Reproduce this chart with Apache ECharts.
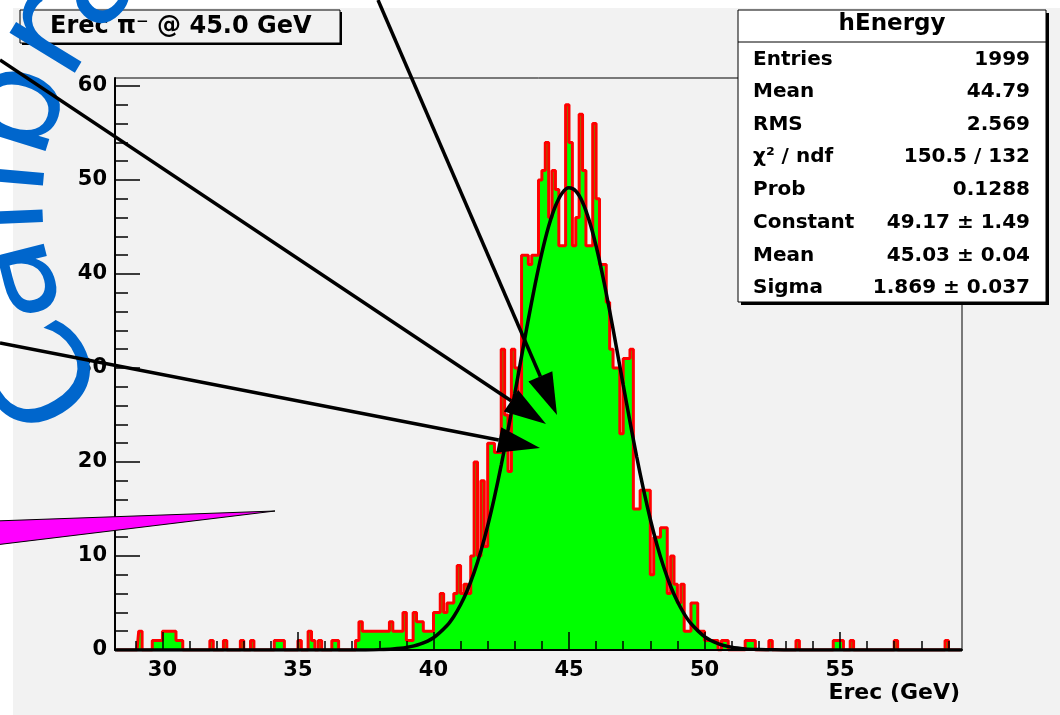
<!DOCTYPE html>
<html>
<head>
<meta charset="utf-8">
<title>hEnergy</title>
<script src="https://cdn.jsdelivr.net/npm/echarts@6.0.0/dist/echarts.min.js"></script>
<style>
  html, body { margin: 0; padding: 0; background: #ffffff; }
  #grafico { width: 1060px; height: 715px; }
</style>
</head>
<body>
<div id="grafico"></div>
<script>
const binLow = 28.25;
const binWidth = 0.125;
const nBins = 250;

// cola izquierda: [bin, cuentas]
const leftTail = [[7, 2], [11, 1], [12, 1], [13, 1], [14, 2], [15, 2], [16, 2], [17, 2], [18, 1], [19, 1],
  [28, 1], [32, 1], [37, 1], [40, 1], [47, 1], [48, 1], [49, 1], [54, 1], [57, 2], [58, 1]];

// bins 60..180
const coreStart = 60;
const coreCounts = [
  1, 0, 0, 0, 1, 1, 0, 0, 0, 0,
  0, 1, 3, 2, 2, 2, 2, 2, 2, 2,
  2, 3, 2, 2, 2, 4, 1, 1, 4, 3,
  3, 2, 2, 2, 4, 4, 6, 4, 5, 5,
  6, 9, 6, 7, 6, 10, 20, 10, 18, 11,
  22, 22, 21, 21, 32, 25, 19, 32, 30, 27,
  42, 42, 41, 42, 42, 50, 51, 54, 46, 51,
  49, 43, 43, 58, 54, 43, 46, 57, 51, 43,
  43, 56, 48, 41, 41, 37, 32, 30, 30, 23,
  31, 31, 32, 15, 15, 17, 17, 17, 8, 12,
  12, 13, 13, 6, 10, 7, 5, 7, 2, 2,
  5, 5, 2, 2, 1, 1, 1, 1, 0, 1, 1
];

// cola derecha: [bin, cuentas]
const rightTail = [[186, 1], [187, 1], [188, 1], [193, 1], [201, 1], [212, 1], [213, 1], [214, 1],
  [217, 1], [230, 1], [245, 1]];

// curva del ajuste gaussiano (muestras)
const fitX = [28.25, 37, 37.5, 38, 38.5, 39, 39.5, 40, 40.5, 40.75, 41, 41.25, 41.5, 41.75, 42, 42.25, 42.5, 42.75,
  43, 43.25, 43.5, 43.75, 44, 44.25, 44.5, 44.75, 45, 45.25, 45.5, 45.75, 46, 46.25, 46.5, 46.75, 47, 47.25,
  47.5, 47.75, 48, 48.25, 48.5, 48.75, 49, 49.25, 49.5, 50, 50.5, 51, 51.5, 52, 52.5, 53, 59.5];
const fitY = [0, 0, 0.01, 0.04, 0.11, 0.27, 0.62, 1.31, 2.61, 3.57, 4.81, 6.36, 8.26, 10.54, 13.21, 16.27, 19.67, 23.37,
  27.26, 31.24, 35.17, 38.89, 42.24, 45.07, 47.23, 48.62, 49.17, 48.83, 47.64, 45.65, 42.98, 39.73, 36.09, 32.20, 28.21, 24.29,
  20.53, 17.05, 13.91, 11.15, 8.77, 6.78, 5.15, 3.85, 2.82, 1.43, 0.68, 0.30, 0.12, 0.05, 0.02, 0, 0];

const xMajorTicks = [30, 35, 40, 45, 50, 55];
const xMinorTicks = [29, 30, 31, 32, 33, 34, 35, 36, 37, 38, 39, 40, 41, 42, 43, 44, 45, 46, 47, 48, 49,
  50, 51, 52, 53, 54, 55, 56, 57, 58, 59];
const yMajorTicks = [0, 10, 20, 30, 40, 50, 60];
const yMinorTicks = [2, 4, 6, 8, 12, 14, 16, 18, 22, 24, 26, 28, 32, 34, 36, 38, 42, 44, 46, 48, 52, 54, 56, 58];

const statLabels = ['Entries', 'Mean', 'RMS', 'χ² / ndf', 'Prob', 'Constant', 'Mean', 'Sigma'];
const statValues = ['1999', '44.79', '2.569', '150.5 / 132', '0.1288', '49.17 ± 1.49', '45.03 ± 0.04', '1.869 ± 0.037'];

const titleText = 'Erec π⁻ @ 45.0 GeV';
const statTitle = 'hEnergy';
const xTitle = 'Erec (GeV)';
const calText = 'Calibration';

// --- CONSTRUCCIÓN ---
const counts = new Array(nBins).fill(0);
leftTail.forEach(([i, c]) => { counts[i] = c; });
coreCounts.forEach((c, k) => { counts[coreStart + k] = c; });
rightTail.forEach(([i, c]) => { counts[i] = c; });
const histData = counts.map((c, i) => [binLow + (i + 0.5) * binWidth, c]);
const fitData = fitX.map((x, i) => [x, fitY[i]]);

const FONT = '"DejaVu Sans", "Liberation Sans", sans-serif';

// flechas negras con punta rellena
function flecha(x1, y1, x2, y2) {
  const headLen = 42, headHalf = 13;
  const dx = x2 - x1, dy = y2 - y1, len = Math.hypot(dx, dy);
  const ux = dx / len, uy = dy / len;
  const bx = x2 - ux * headLen, by = y2 - uy * headLen;
  return [
    { type: 'line', z: 120, shape: { x1: x1, y1: y1, x2: bx, y2: by }, style: { stroke: '#000', lineWidth: 3.5 } },
    { type: 'polygon', z: 121, shape: { points: [[x2, y2], [bx - uy * headHalf, by + ux * headHalf], [bx + uy * headHalf, by - ux * headHalf]] },
      style: { fill: '#000' } }
  ];
}

// letras azules sobre un arco (centro de cada letra sobre un círculo)
function letrasArco() {
  const fs = 140, cx = 321, cy = 204, rAncla = 315, rPaso = 300;
  const adv = { C: 0.70, a: 0.61, l: 0.28, i: 0.28, b: 0.64, r: 0.41, t: 0.39, o: 0.61, n: 0.63 };
  let s = 138.8 * Math.PI / 180;
  const out = [];
  for (const ch of calText) {
    const w = adv[ch] * fs;
    const phi = s + (w / 2) / rPaso;
    out.push({
      type: 'text', z: 110,
      x: cx + rAncla * Math.cos(phi), y: cy + rAncla * Math.sin(phi),
      rotation: 1.5 * Math.PI - phi,
      style: { text: ch, fill: '#0066cc', font: 'normal ' + fs + 'px ' + FONT, align: 'center', verticalAlign: 'middle' }
    });
    s += w / rPaso;
  }
  return out;
}

const statRowY = [60, 92, 125, 157, 190, 223, 256, 288];
const statTexts = [];
statLabels.forEach((t, i) => {
  statTexts.push({ type: 'text', z: 61, x: 753, y: statRowY[i],
    style: { text: t, fill: '#000', font: 'bold 20px ' + FONT, align: 'left', verticalAlign: 'middle' } });
  statTexts.push({ type: 'text', z: 61, x: 1030, y: statRowY[i],
    style: { text: statValues[i], fill: '#000', font: 'bold 20px ' + FONT, align: 'right', verticalAlign: 'middle' } });
});

const graficos = [
  // fondo del canvas
  { type: 'rect', z: -10, shape: { x: 13, y: 8, width: 1047, height: 707 }, style: { fill: '#f2f2f2' } },
  // caja de título
  { type: 'rect', z: 60, shape: { x: 22, y: 12, width: 320, height: 33 }, style: { fill: '#000' } },
  { type: 'rect', z: 60, shape: { x: 20, y: 10, width: 320, height: 33 }, style: { fill: '#f2f2f2', stroke: '#000', lineWidth: 1 } },
  { type: 'text', z: 61, x: 50, y: 27, style: { text: titleText, fill: '#000', font: 'bold 24px ' + FONT, align: 'left', verticalAlign: 'middle' } },
  // caja de estadísticas
  { type: 'rect', z: 60, shape: { x: 741, y: 13, width: 308, height: 292 }, style: { fill: '#000' } },
  { type: 'rect', z: 60, shape: { x: 738, y: 10, width: 308, height: 292 }, style: { fill: '#ffffff', stroke: '#000', lineWidth: 1 } },
  { type: 'line', z: 61, shape: { x1: 738, y1: 42, x2: 1046, y2: 42 }, style: { stroke: '#000', lineWidth: 1 } },
  { type: 'text', z: 61, x: 892, y: 24, style: { text: statTitle, fill: '#000', font: 'bold 23px ' + FONT, align: 'center', verticalAlign: 'middle' } },
  ...statTexts,
  // título del eje x
  { type: 'text', z: 61, x: 960, y: 693, style: { text: xTitle, fill: '#000', font: 'bold 22px ' + FONT, align: 'right', verticalAlign: 'middle' } },
  // texto azul
  ...letrasArco(),
  // cuña magenta
  { type: 'polygon', z: 115, shape: { points: [[-5, 521], [275, 511], [-5, 545]] }, style: { fill: '#ff00ff', stroke: '#000', lineWidth: 1 } },
  // flechas
  ...flecha(378, 0, 557, 415),
  ...flecha(0, 60, 546, 424),
  ...flecha(0, 343, 540, 448)
];

const chart = echarts.init(document.getElementById('grafico'), null, { renderer: 'canvas' });

const labelStyle = { color: '#000', fontFamily: FONT, fontWeight: 'bold', fontSize: 21 };

chart.setOption({
  animation: false,
  backgroundColor: '#ffffff',
  grid: { left: 115, right: 98, top: 78, bottom: 65, show: true, borderColor: '#000', borderWidth: 1, backgroundColor: 'transparent' },
  xAxis: [
    { type: 'value', min: binLow, max: 59.5, position: 'bottom', z: 5,
      axisLine: { show: true, onZero: false, lineStyle: { color: '#000', width: 2 } },
      axisTick: { show: true, inside: true, length: 18, customValues: xMajorTicks, lineStyle: { color: '#000', width: 1.5 } },
      axisLabel: Object.assign({ customValues: xMajorTicks, margin: 10 }, labelStyle),
      splitLine: { show: false } },
    { type: 'value', min: binLow, max: 59.5, position: 'bottom', z: 5,
      axisLine: { show: false },
      axisTick: { show: true, inside: true, length: 9, customValues: xMinorTicks, lineStyle: { color: '#000', width: 1.5 } },
      axisLabel: { show: false },
      splitLine: { show: false } }
  ],
  yAxis: [
    { type: 'value', min: 0, max: 60.85, position: 'left', z: 5,
      axisLine: { show: true, onZero: false, lineStyle: { color: '#000', width: 2 } },
      axisTick: { show: true, inside: true, length: 25, customValues: yMajorTicks, lineStyle: { color: '#000', width: 1.5 } },
      axisLabel: Object.assign({ customValues: yMajorTicks, margin: 8 }, labelStyle),
      splitLine: { show: false } },
    { type: 'value', min: 0, max: 60.85, position: 'left', z: 5,
      axisLine: { show: false },
      axisTick: { show: true, inside: true, length: 13, customValues: yMinorTicks, lineStyle: { color: '#000', width: 1.5 } },
      axisLabel: { show: false },
      splitLine: { show: false } }
  ],
  series: [
    { name: 'hEnergy', type: 'line', step: 'middle', xAxisIndex: 0, yAxisIndex: 0, data: histData,
      symbol: 'none', z: 2,
      lineStyle: { color: '#ff0000', width: 3 },
      areaStyle: { color: '#00ff00', opacity: 1 } },
    { name: 'gaus', type: 'line', xAxisIndex: 0, yAxisIndex: 0, data: fitData,
      symbol: 'none', smooth: 0.3, z: 3,
      lineStyle: { color: '#000', width: 3.5 } }
  ],
  graphic: graficos
});
</script>
</body>
</html>
